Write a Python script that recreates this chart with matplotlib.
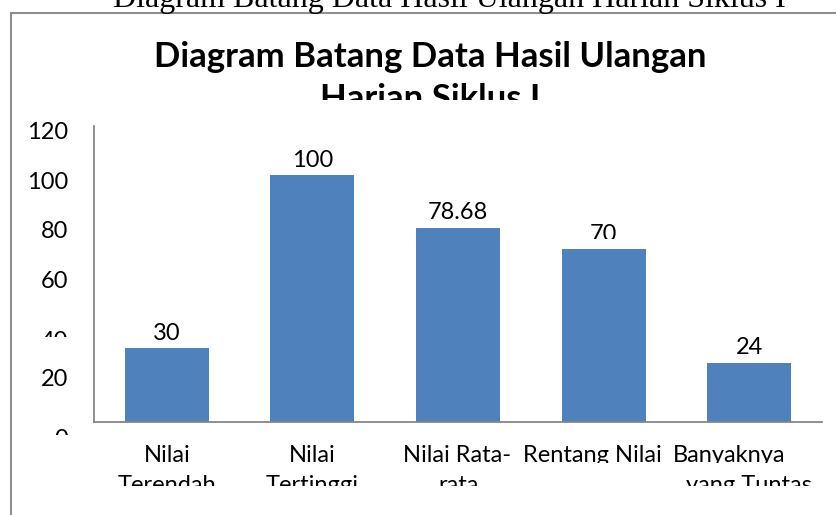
import matplotlib
matplotlib.use('Agg')
import matplotlib.pyplot as plt
import matplotlib.transforms as mtransforms
from matplotlib.lines import Line2D

# ---------------- data ----------------
categories_line1 = ['Nilai', 'Nilai', 'Nilai Rata-', 'Rentang Nilai', 'Banyaknya']
categories_line2 = ['Terendah', 'Tertinggi', 'rata', '', 'yang Tuntas']
values = [30, 100, 78.68, 70, 24]
value_labels = ['30', '100', '78.68', '70', '24']
y_ticks = [0, 20, 40, 60, 80, 100, 120]
y_tick_labels = ['0', '20', '40', '60', '80', '100', '120']
chart_title_lines = ['Diagram Batang Data Hasil Ulangan', 'Harian Siklus I']
doc_caption = 'Diagram Batang Data Hasil Ulangan Harian Siklus I'

# ---------------- style / layout ----------------
W, H, DPI = 836, 515, 100
BAR_COLOR = '#4F81BD'
AXIS_COLOR = '#868686'
FRAME_COLOR = '#8f8f8f'
SANS = ['Lato', 'DejaVu Sans']
LABEL_FS = 17
TITLE_FS = 25

fig = plt.figure(figsize=(W / DPI, H / DPI), dpi=DPI)
pix = mtransforms.Affine2D().scale(1, -1).translate(0, H)  # image-pixel coords -> display


def clip_below(artist, y_img):
    artist.set_clip_box(mtransforms.Bbox([[0, H - y_img], [W, H + 50]]))
    artist.set_clip_on(True)


ax = fig.add_axes([94 / W, 1 - 422 / H, (822 - 94) / W, (422 - 126) / H])
x = list(range(len(values)))
ax.bar(x, values, width=0.577, color=BAR_COLOR, zorder=2)
ax.set_xlim(-0.5, len(values) - 0.5)
ax.set_ylim(0, 120)
ax.set_yticks(y_ticks)
ax.set_xticks(x)
ax.tick_params(left=False, bottom=False, labelleft=False, labelbottom=False)
for s in ['top', 'right']:
    ax.spines[s].set_visible(False)
for s in ['left', 'bottom']:
    ax.spines[s].set_color(AXIS_COLOR)
    ax.spines[s].set_linewidth(1.3)

# y tick labels (baseline offsets in px below tick, optional clip row)
ytick_base_off = [24, 13.5, 25, 13.5, 13.5, 13.5, 13]
ytick_clip = [435, None, 337, None, None, None, None]
for t, lab, off, clp in zip(y_ticks, y_tick_labels, ytick_base_off, ytick_clip):
    tr = mtransforms.blended_transform_factory(mtransforms.IdentityTransform(), ax.transData) \
        + mtransforms.Affine2D().translate(0, -off)
    txt = ax.text(68, t, lab, transform=tr, ha='right', va='baseline',
                  fontsize=LABEL_FS, family=SANS, color='black', clip_on=False)
    if clp is not None:
        clip_below(txt, clp)

# data labels
val_clip = [None, None, None, 239, None]
for xi, v, lab, clp in zip(x, values, value_labels, val_clip):
    tr = ax.transData + mtransforms.Affine2D().translate(0, 8.5)
    txt = ax.text(xi, v, lab, transform=tr, ha='center', va='baseline',
                  fontsize=LABEL_FS, family=SANS, color='black', clip_on=False)
    if clp is not None:
        clip_below(txt, clp)

# category labels
l1_dx = [0, 0, -1, -11.5, -20]
l2_dx = [0, 0, 1, 0, 0]
bl = mtransforms.blended_transform_factory(ax.transData, pix)
for xi, a, b, d1, d2 in zip(x, categories_line1, categories_line2, l1_dx, l2_dx):
    t1 = ax.text(xi, 462, a, transform=bl + mtransforms.Affine2D().translate(d1, 0),
                 ha='center', va='baseline', fontsize=LABEL_FS, family=SANS, clip_on=False)
    clip_below(t1, 463)
    if b:
        t2 = ax.text(xi, 492, b, transform=bl + mtransforms.Affine2D().translate(d2, 0),
                     ha='center', va='baseline', fontsize=LABEL_FS, family=SANS, clip_on=False)
        clip_below(t2, 486)

# chart title (two lines, second clipped)
fig.text(430, 67, chart_title_lines[0], transform=pix, ha='center', va='baseline',
         fontsize=TITLE_FS, fontweight='bold', family=SANS)
t = fig.text(430, 109, chart_title_lines[1], transform=pix, ha='center', va='baseline',
             fontsize=TITLE_FS, fontweight='bold', family=SANS)
clip_below(t, 100)

# document caption above the frame (cut by the image edge)
fig.text(449.5, 7, doc_caption, transform=pix, ha='center', va='baseline',
         fontsize=23, family=['Liberation Serif', 'DejaVu Serif'])

# outer frame of the chart object
fig.add_artist(Line2D([11, 11], [13, 520], transform=pix, color=FRAME_COLOR, lw=1.5))
fig.add_artist(Line2D([11, 840], [13, 13], transform=pix, color=FRAME_COLOR, lw=1.5))

fig.savefig('out.png', dpi=DPI)
